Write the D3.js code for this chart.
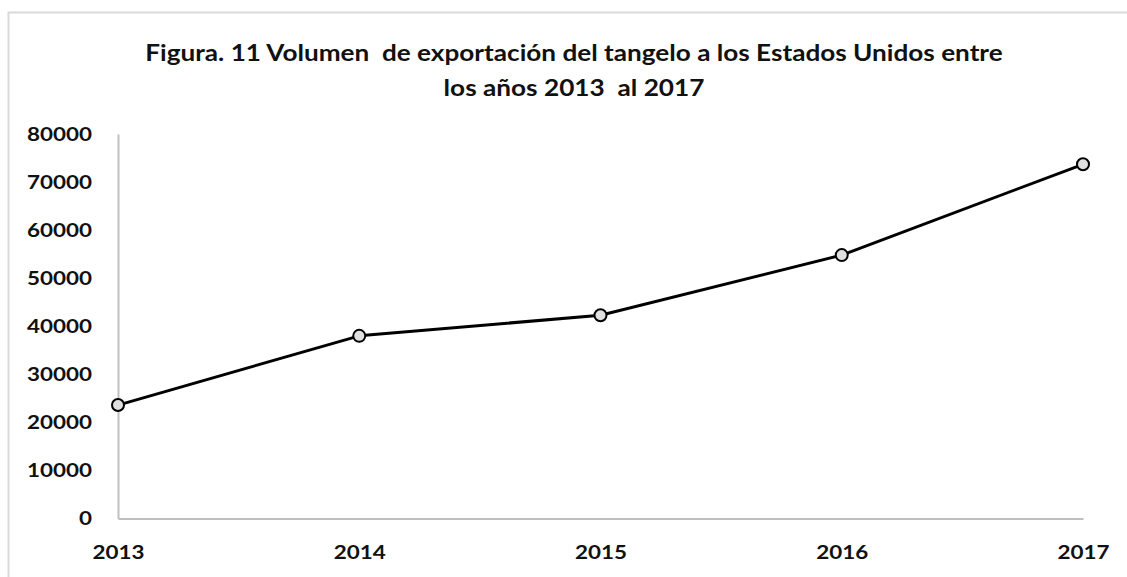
<!DOCTYPE html>
<html>
<head>
<meta charset="utf-8">
<script src="https://cdn.jsdelivr.net/npm/d3@7"></script>
<style>
  html, body { margin: 0; padding: 0; background: #fff; }
  svg { display: block; }
</style>
</head>
<body>
<div id="chart"></div>
<script>
// data
const years = ["2013", "2014", "2015", "2016", "2017"];
const volumen = [23600, 38000, 42300, 54800, 73700];
const yTicks = [0, 10000, 20000, 30000, 40000, 50000, 60000, 70000, 80000];
const titleLines = [
  "Figura. 11 Volumen  de exportación del tangelo a los Estados Unidos entre",
  "los años 2013  al 2017"
];

const width = 1127, height = 577;
const margin = {top: 134, right: 44, bottom: 58.5, left: 118};
const font = "Lato, 'Open Sans', sans-serif";
const labelSize = 19.5, labelStretch = 1.15;

const svg = d3.select("#chart").append("svg")
    .attr("width", width)
    .attr("height", height)
    .attr("font-family", font)
    .attr("font-weight", "bold");

// chart area border (runs off the right / bottom edge)
svg.append("rect")
    .attr("x", 8.5)
    .attr("y", 12.5)
    .attr("width", width + 20)
    .attr("height", height + 20)
    .attr("fill", "none")
    .attr("stroke", "#d9d9d9")
    .attr("stroke-width", 2);

const x = d3.scalePoint()
    .domain(years)
    .range([margin.left, width - margin.right]);

const y = d3.scaleLinear()
    .domain([0, 80000])
    .range([height - margin.bottom, margin.top]);

// title, stretched horizontally like the original
const title = svg.append("g").attr("fill", "#111");
titleLines.forEach((t, i) => {
  const cy = [53, 88][i];
  const txt = title.append("text")
      .attr("font-size", 23)
      .attr("text-anchor", "middle")
      .attr("dy", "0.35em")
      .style("white-space", "pre")
      .text(t);
  const w = txt.node().getComputedTextLength();
  const target = i === 0 ? 858 : 261;
  txt.attr("transform", `translate(574,${cy}) scale(${target / w},1)`);
});

// y axis
const yAxis = svg.append("g")
    .attr("transform", `translate(${margin.left},0)`)
    .call(d3.axisLeft(y).tickValues(yTicks).tickSize(0).tickPadding(26).tickFormat(d3.format("d")));
yAxis.select(".domain").attr("stroke", "#bfbfbf").attr("stroke-width", 2);
yAxis.selectAll("text")
    .attr("font-size", labelSize)
    .attr("font-family", font)
    .attr("font-weight", "bold")
    .attr("fill", "#111")
    .each(function() {
      const t = d3.select(this);
      const xx = +t.attr("x");
      t.attr("transform", `translate(${xx},0) scale(${labelStretch},1) translate(${-xx},0)`);
    });

// x axis
const xAxis = svg.append("g")
    .attr("transform", `translate(0,${height - margin.bottom})`)
    .call(d3.axisBottom(x).tickSize(0).tickPadding(27));
xAxis.select(".domain").attr("stroke", "#bfbfbf").attr("stroke-width", 2);
xAxis.selectAll("text")
    .attr("font-size", labelSize)
    .attr("font-family", font)
    .attr("font-weight", "bold")
    .attr("fill", "#111")
    .attr("transform", `scale(${labelStretch},1)`);

// line
const line = d3.line()
    .x((d, i) => x(years[i]))
    .y(d => y(d));

svg.append("path")
    .datum(volumen)
    .attr("fill", "none")
    .attr("stroke", "#000")
    .attr("stroke-width", 3)
    .attr("stroke-linejoin", "round")
    .attr("d", line);

svg.append("g")
  .selectAll("circle")
  .data(volumen)
  .join("circle")
    .attr("cx", (d, i) => x(years[i]))
    .attr("cy", d => y(d))
    .attr("r", 6)
    .attr("fill", "#e0e0e0")
    .attr("stroke", "#000")
    .attr("stroke-width", 2);
</script>
</body>
</html>
